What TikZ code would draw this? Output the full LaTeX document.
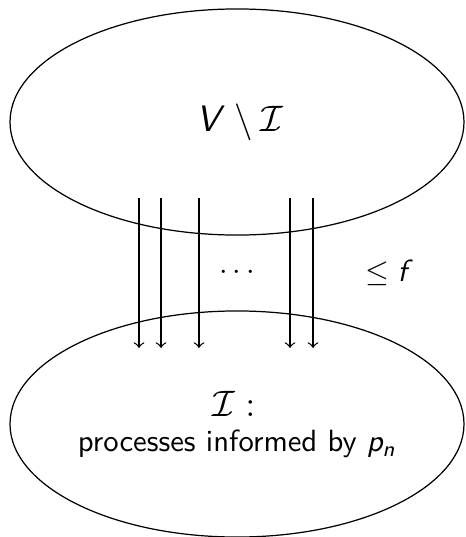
\documentclass[tikz,border=0pt]{standalone}
\usetikzlibrary{shapes.geometric}
\renewcommand{\familydefault}{\sfdefault}
\DeclareMathAlphabet{\mathsfit}{TU}{lmss}{m}{sl}
\newcommand{\sv}[1]{\mathsfit{#1}}
\begin{document}
\begin{tikzpicture}[x=0.326pt,y=-0.326pt,
  blob/.style={draw,ellipse,minimum width=148pt,minimum height=73.7pt,inner sep=0pt},
  flow/.style={->}]
\useasboundingbox (0,0) rectangle (466,537);

% Ensemble du haut
\node[blob] (rest) at (237,122) {};
\node (restlbl) at (240,122) {\large $\sv{V}\,\setminus\mathcal{I}$};

% Ensemble informe
\node[blob] (inf) at (237,424) {};
\node (inflbl) at (234,404) {\large $\mathcal{I}:$};
\node (inftxt) at (237,444) {processes informed by $\sv{p}_{\sv{n}}$};

% Fleches
\foreach \x/\n in {139/a,161/b,199/c,290/d,313/e}
{
\coordinate (src\n) at (\x,198);
\coordinate (dst\n) at (\x,348);
\draw[flow] (src\n) -- (dst\n);
}

\node (dots) at (237,273) {$\cdots$};
\node (bound) at (386,273) {$\leq \sv{f}$};

\end{tikzpicture}
\end{document}
